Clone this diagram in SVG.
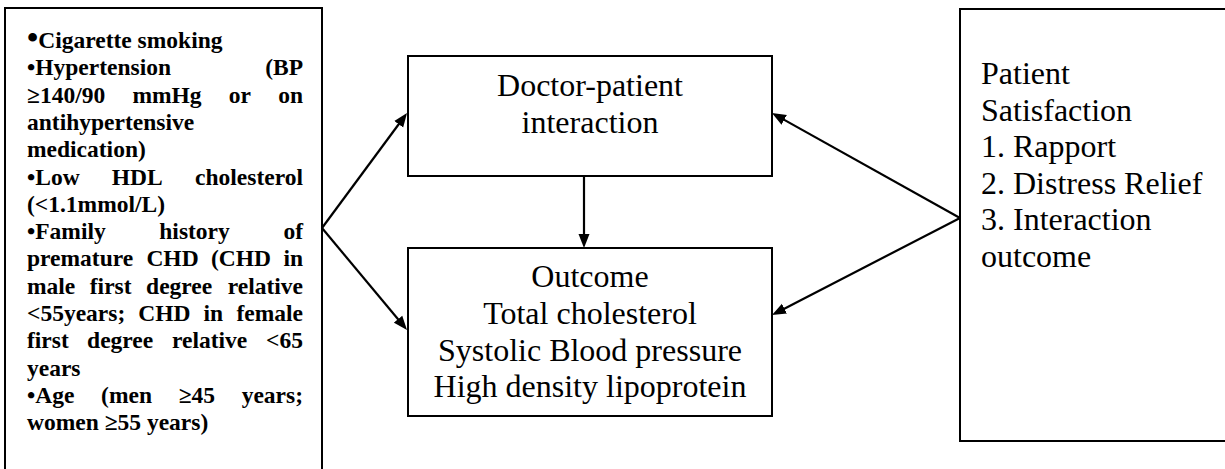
<svg xmlns="http://www.w3.org/2000/svg" width="1225" height="469" viewBox="0 0 1225 469">
<defs>
<style>
.box{fill:#fff;stroke:#000;stroke-width:2}
.lb{font-family:'Liberation Serif','Times New Roman',Times,serif;font-weight:bold;font-size:23.5px;fill:#000}
.rg{font-family:'Liberation Serif','Times New Roman',Times,serif;font-size:32px;fill:#000}
.mid{text-anchor:middle}
.end{text-anchor:end}
.conn{stroke:#000;stroke-width:2.2;fill:none;marker-end:url(#ah)}
</style>
<marker id="ah" markerUnits="userSpaceOnUse" markerWidth="15" markerHeight="12" refX="4" refY="6" orient="auto">
<path d="M0,0.5 L14,6 L0,11.5 z" fill="#000"/>
</marker>
</defs>
<rect width="1225" height="469" fill="#fff"/>
<g id="risk-factors" font-family="Liberation Serif, serif">
<rect class="box" x="5" y="8" width="317" height="480"/>
<text class="lb" x="27" y="48"><tspan font-size="32">•</tspan>Cigarette smoking</text>
<text class="lb" x="27" y="75.3">•Hypertension</text>
<text class="lb end" x="303" y="75.3">(BP</text>
<text class="lb" x="27" y="102.6">≥140/90</text>
<text class="lb" x="132.4" y="102.6">mmHg</text>
<text class="lb" x="228.8" y="102.6">or</text>
<text class="lb end" x="303" y="102.6">on</text>
<text class="lb" x="27" y="129.9">antihypertensive</text>
<text class="lb" x="27" y="157.2">medication)</text>
<text class="lb" x="27" y="184.5">•Low</text>
<text class="lb" x="111.7" y="184.5">HDL</text>
<text class="lb end" x="303" y="184.5">cholesterol</text>
<text class="lb" x="27" y="211.8">(&lt;1.1mmol/L)</text>
<text class="lb" x="27" y="239.1">•Family</text>
<text class="lb" x="159.3" y="239.1">history</text>
<text class="lb end" x="303" y="239.1">of</text>
<text class="lb" x="27" y="266.4">premature</text>
<text class="lb" x="146.4" y="266.4">CHD</text>
<text class="lb" x="211" y="266.4">(CHD</text>
<text class="lb end" x="303" y="266.4">in</text>
<text class="lb" x="27" y="293.7">male</text>
<text class="lb" x="89.8" y="293.7">first</text>
<text class="lb" x="146.1" y="293.7">degree</text>
<text class="lb end" x="303" y="293.7">relative</text>
<text class="lb" x="27" y="321">&lt;55years;</text>
<text class="lb" x="138.3" y="321">CHD</text>
<text class="lb" x="203.6" y="321">in</text>
<text class="lb end" x="303" y="321">female</text>
<text class="lb" x="27" y="348.3">first</text>
<text class="lb" x="87.1" y="348.3">degree</text>
<text class="lb" x="172" y="348.3">relative</text>
<text class="lb end" x="303" y="348.3">&lt;65</text>
<text class="lb" x="27" y="375.6">years</text>
<text class="lb" x="27" y="402.9">•Age</text>
<text class="lb" x="101.1" y="402.9">(men</text>
<text class="lb" x="178.7" y="402.9">≥45</text>
<text class="lb end" x="303" y="402.9">years;</text>
<text class="lb" x="27" y="430.2">women ≥55 years)</text>
</g>
<g id="doctor-patient" font-family="Liberation Serif, serif">
<rect class="box" x="408" y="56" width="364" height="120"/>
<text class="rg mid" x="590" y="96">Doctor-patient</text>
<text class="rg mid" x="590" y="133">interaction</text>
</g>
<g id="outcome" font-family="Liberation Serif, serif">
<rect class="box" x="408" y="248" width="364" height="168"/>
<text class="rg mid" x="590" y="287">Outcome</text>
<text class="rg mid" x="590" y="324">Total cholesterol</text>
<text class="rg mid" x="590" y="360.5">Systolic Blood pressure</text>
<text class="rg mid" x="590" y="397">High density lipoprotein</text>
</g>
<g id="satisfaction" font-family="Liberation Serif, serif">
<rect class="box" x="960" y="9" width="300" height="432"/>
<text class="rg" x="981" y="84">Patient</text>
<text class="rg" x="981" y="120.5">Satisfaction</text>
<text class="rg" x="981" y="157">1. Rapport</text>
<text class="rg" x="981" y="193.5">2. Distress Relief</text>
<text class="rg" x="981" y="230">3. Interaction</text>
<text class="rg" x="981" y="266.5">outcome</text>
</g>
<g id="connectors">
<line class="conn" x1="322" y1="228" x2="401.1" y2="121"/>
<line class="conn" x1="322" y1="228" x2="400.6" y2="322.3"/>
<line class="conn" x1="960" y1="218" x2="780.7" y2="117.9"/>
<line class="conn" x1="960" y1="218" x2="780.9" y2="310.4"/>
<line class="conn" x1="584" y1="177" x2="584" y2="238"/>
</g>
</svg>
